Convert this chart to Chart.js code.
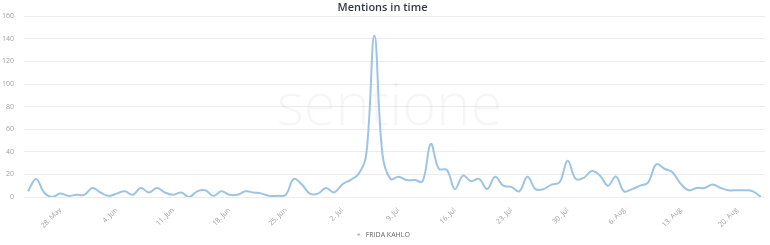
<!DOCTYPE html>
<html><head><meta charset="utf-8">
<script src="https://cdn.jsdelivr.net/npm/chart.js@4/dist/chart.umd.min.js"></script>
<style>html,body{margin:0;padding:0;background:#fff}</style>
</head><body>
<canvas id="c" width="770" height="245"></canvas>
<script>
const chartTitle = "Mentions in time";
const seriesName = "FRIDA KAHLO";
const monthNames = ["May", "Jun", "Jul", "Aug"];
const monthLengths = [31, 30, 31, 31];
const firstDay = 24;       // 24. May
const dayCount = 92;       // through 23. Aug
const mentions = [
  5, 16, 4, 0, 3, 1, 2, 2, 8, 4,
  1, 3, 5, 2, 8, 4, 8, 4, 2, 4,
  0, 5, 6, 1, 5, 2, 2, 5, 4, 3,
  1, 1, 2, 16, 11, 3, 3, 8, 4, 11,
  15, 20, 38, 143, 38, 16, 18, 15, 15, 14,
  47, 25, 24, 7, 19, 14, 16, 7, 18, 10,
  9, 5, 18, 7, 7, 11, 13, 32, 16, 17,
  23, 19, 10, 18, 5, 7, 10, 13, 29, 25,
  22, 12, 6, 8, 8, 11, 8, 6, 6, 6,
  5, 0
];
const tickLabels = ["28. May", "4. Jun", "11. Jun", "18. Jun", "25. Jun", "2. Jul", "9. Jul",
                    "16. Jul", "23. Jul", "30. Jul", "6. Aug", "13. Aug", "20. Aug"];
const yMax = 160, yStep = 20;

// daily categories
const categories = [];
{
  let m = 0, d = firstDay;
  for (let i = 0; i < dayCount; i++) {
    categories.push(d + ". " + monthNames[m]);
    d++;
    if (d > monthLengths[m]) { d = 1; m++; }
  }
}

const watermark = {
  id: 'watermark',
  beforeDatasetsDraw(chart) {
    const {ctx, chartArea} = chart;
    const cx = (chartArea.left + chartArea.right) / 2;
    const cy = (chartArea.top + chartArea.bottom) / 2;
    ctx.save();
    ctx.font = '300 58px "Open Sans"';
    ctx.fillStyle = 'rgba(0,0,0,0.035)';
    ctx.textAlign = 'center';
    ctx.textBaseline = 'middle';
    ctx.fillText('sentione', cx - 5, cy + 2);
    ctx.restore();
  }
};

new Chart(document.getElementById('c'), {
  type: 'line',
  data: {
    labels: categories,
    datasets: [{
      label: seriesName,
      data: mentions,
      borderColor: 'rgb(158,196,227)',
      backgroundColor: 'rgb(158,196,227)',
      borderWidth: 2,
      pointRadius: 0,
      tension: 0.4,
      fill: false
    }]
  },
  options: {
    responsive: false,
    animation: false,
    layout: { padding: { left: 0, right: 5, top: 0, bottom: 2 } },
    plugins: {
      title: {
        display: true, text: chartTitle, color: '#333a45',
        font: { family: '"Open Sans"', size: 11, weight: '600' },
        padding: { top: 1, bottom: 2 }
      },
      legend: {
        position: 'bottom',
        maxHeight: 13,
        labels: {
          usePointStyle: true, pointStyle: 'line', boxWidth: 8, boxHeight: 2,
          color: '#666', font: { family: '"Open Sans"', size: 7 }, padding: 1
        }
      },
      tooltip: { enabled: false }
    },
    scales: {
      x: {
        type: 'category',
        offset: true,
        grid: { display: false },
        border: { display: false },
        afterFit(scale) { scale.height = 33; scale.paddingLeft = 0; scale.paddingRight = 0; },
        ticks: {
          autoSkip: false, maxRotation: 45, minRotation: 45,
          color: '#a0a0a0', font: { family: '"Open Sans"', size: 7 }, padding: 1,
          callback: function (v, i) {
            const lbl = categories[i];
            return tickLabels.includes(lbl) ? lbl : null;
          }
        }
      },
      y: {
        min: 0, max: yMax,
        grid: { color: '#ececec', drawTicks: false },
        border: { display: false },
        afterFit(scale) { scale.width = 24; },
        ticks: {
          stepSize: yStep, color: '#a0a0a0', padding: 10,
          font: { family: '"Open Sans"', size: 7 }
        }
      }
    }
  },
  plugins: [watermark]
});
</script>
</body></html>
